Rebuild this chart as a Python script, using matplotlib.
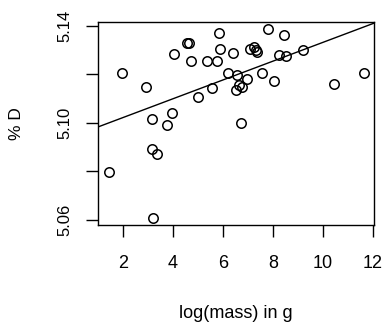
import numpy as np
import matplotlib
matplotlib.use("Agg")
import matplotlib.pyplot as plt

plt.rcParams['font.family'] = ['Liberation Sans', 'DejaVu Sans']

# log(mass) in g
log_mass = [1.44, 1.95, 2.92, 3.95, 3.15, 3.75, 3.16, 3.37, 3.21, 4.03,
            4.54, 4.64, 4.71, 5.83, 5.88, 6.41, 5.35, 5.75, 7.08, 7.22,
            7.30, 7.35, 7.79, 8.44, 8.25, 8.52, 9.19, 6.21, 6.55, 6.95,
            6.65, 6.76, 6.52, 7.56, 8.05, 5.55, 5.00, 6.70, 10.44, 11.64]
# % D
pct_d = [5.0799, 5.1205, 5.1150, 5.1042, 5.1016, 5.0992, 5.0892, 5.0872, 5.0608, 5.1285,
         5.1331, 5.1331, 5.1254, 5.1370, 5.1304, 5.1287, 5.1254, 5.1257, 5.1304, 5.1313,
         5.1303, 5.1294, 5.1386, 5.1363, 5.1281, 5.1276, 5.1301, 5.1207, 5.1196, 5.1180,
         5.1155, 5.1148, 5.1136, 5.1207, 5.1173, 5.1143, 5.1107, 5.0999, 5.1161, 5.1207]

xticks = [2, 4, 6, 8, 10, 12]
yticks = [5.06, 5.08, 5.10, 5.12, 5.14]
ytick_labels = ['5.06', '', '5.10', '', '5.14']

fig = plt.figure(figsize=(3.86, 3.29), dpi=100)
ax = fig.add_axes([98/386, 1-225/329, 276/386, 203/329])

ax.plot(log_mass, pct_d, 'o', mfc='none', mec='black', ms=6.8, mew=1.1)

# least squares line (abline(lm(...)))
slope, intercept = np.polyfit(log_mass, pct_d, 1)
xl = np.array([1.0, 12.04])
ax.plot(xl, intercept + slope*xl, color='black', lw=1.0)

ax.set_xlim(1.0, 12.04)
ax.set_ylim(5.0579, 5.14165)
ax.set_xticks(xticks)
ax.set_yticks(yticks)
ax.set_yticklabels(ytick_labels, rotation=90, va='center')
ax.tick_params(direction='out', length=8.5, width=1.0)
ax.tick_params(axis='x', pad=13, labelsize=13)
ax.tick_params(axis='y', pad=10, labelsize=12)
for s in ax.spines.values():
    s.set_linewidth(1.0)

ax.set_xlabel('log(mass) in g', fontsize=13, va='center')
ax.xaxis.set_label_coords(0.5, -0.435)
ax.set_ylabel('% D', fontsize=12.5, va='center')
ax.yaxis.set_label_coords(-0.297, 0.5)

fig.savefig('out.png', dpi=100)
